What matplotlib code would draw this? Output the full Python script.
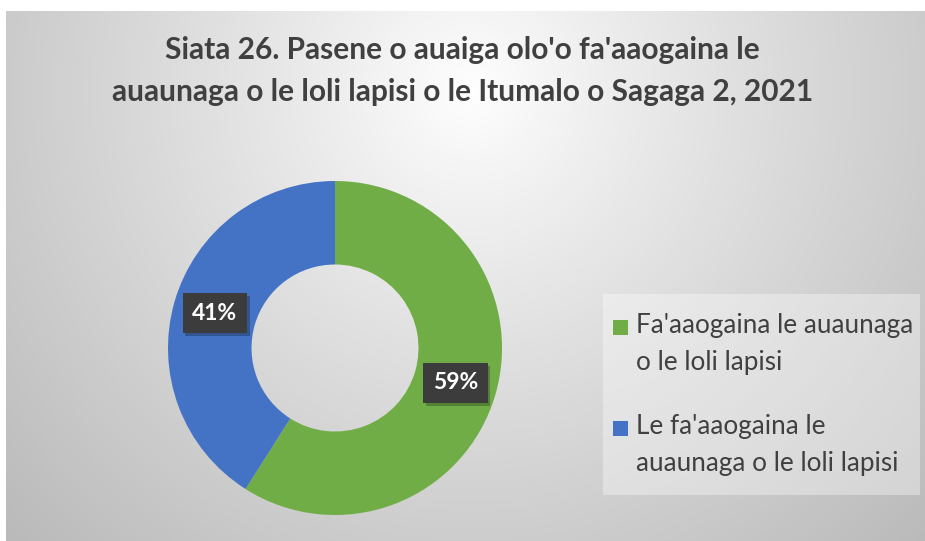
import numpy as np
import matplotlib
matplotlib.use("Agg")
import matplotlib.pyplot as plt
from matplotlib.patches import Rectangle
import matplotlib.patheffects as pe

title = "Siata 26. Pasene o auaiga olo'o fa'aaogaina le\nauaunaga o le loli lapisi o le Itumalo o Sagaga 2, 2021"
categories = ["Fa'aaogaina le auaunaga\no le loli lapisi",
              "Le fa'aaogaina le\nauaunaga o le loli lapisi"]
values = [59, 41]
colors = ["#70AD47", "#4472C4"]

plt.rcParams['font.family'] = ['Lato', 'DejaVu Sans']

W, H = 925, 541
fig = plt.figure(figsize=(W / 100, H / 100), dpi=100)


def fx(x):
    return x / W


def fy(y):
    return 1 - y / H


# background gradient (chart area)
bg = fig.add_axes([6 / W, 0, 1 - 6 / W, 1 - 11 / H])
bg.set_axis_off()
yy, xx = np.mgrid[0:530, 0:919]
cx, cy = 465, 80
d = np.sqrt((xx - cx) ** 2 + (yy - cy) ** 2)
v = 1.0 - 0.27 * np.clip(d / 640, 0, 1) ** 0.9
img = np.dstack([v, v, v])
bg.imshow(img, aspect='auto', extent=[0, 1, 0, 1], origin='upper')
bg.set_xlim(0, 1)
bg.set_ylim(0, 1)

fig.text(0.5, fy(71), title, ha='center', va='center', fontsize=21.5,
         fontweight='bold', color='#404040', linespacing=1.6)

ax = fig.add_axes([168 / W, 26 / H, 334 / W, 334 / H])
wedges, texts, autotexts = ax.pie(
    values, colors=colors, startangle=90, counterclock=False,
    radius=1.0, wedgeprops=dict(width=0.5, edgecolor='none'),
    autopct='%1.0f%%', pctdistance=0.75,
    textprops=dict(color='white', fontsize=16.5, fontweight='bold'))
for t in autotexts:
    t.set_bbox(dict(boxstyle='square,pad=0.42', facecolor='#3c3c3c', edgecolor='none'))
    t.get_bbox_patch().set_path_effects(
        [pe.SimplePatchShadow(offset=(2, -2), shadow_rgbFace='black', alpha=0.25), pe.Normal()])
ax.set_xlim(-1, 1)
ax.set_ylim(-1, 1)
ax.set_aspect('equal')
ax.set_axis_off()

# legend (box, markers, labels)
fig.patches.append(Rectangle((fx(603), fy(495)), fx(920) - fx(603), fy(294) - fy(495),
                             transform=fig.transFigure, facecolor='white', alpha=0.35,
                             edgecolor='none', zorder=1))
entry_y = [327, 428]
for lab, col, y in zip(categories, colors, entry_y):
    fig.patches.append(Rectangle((fx(613), fy(y + 7.5)), fx(15), 15 / H,
                                 transform=fig.transFigure, facecolor=col,
                                 edgecolor='none', zorder=2))
    fig.text(fx(636), fy(y - 14), lab, ha='left', va='top', fontsize=18.8,
             color='#404040', linespacing=1.62)

fig.savefig('out.png', dpi=100)
